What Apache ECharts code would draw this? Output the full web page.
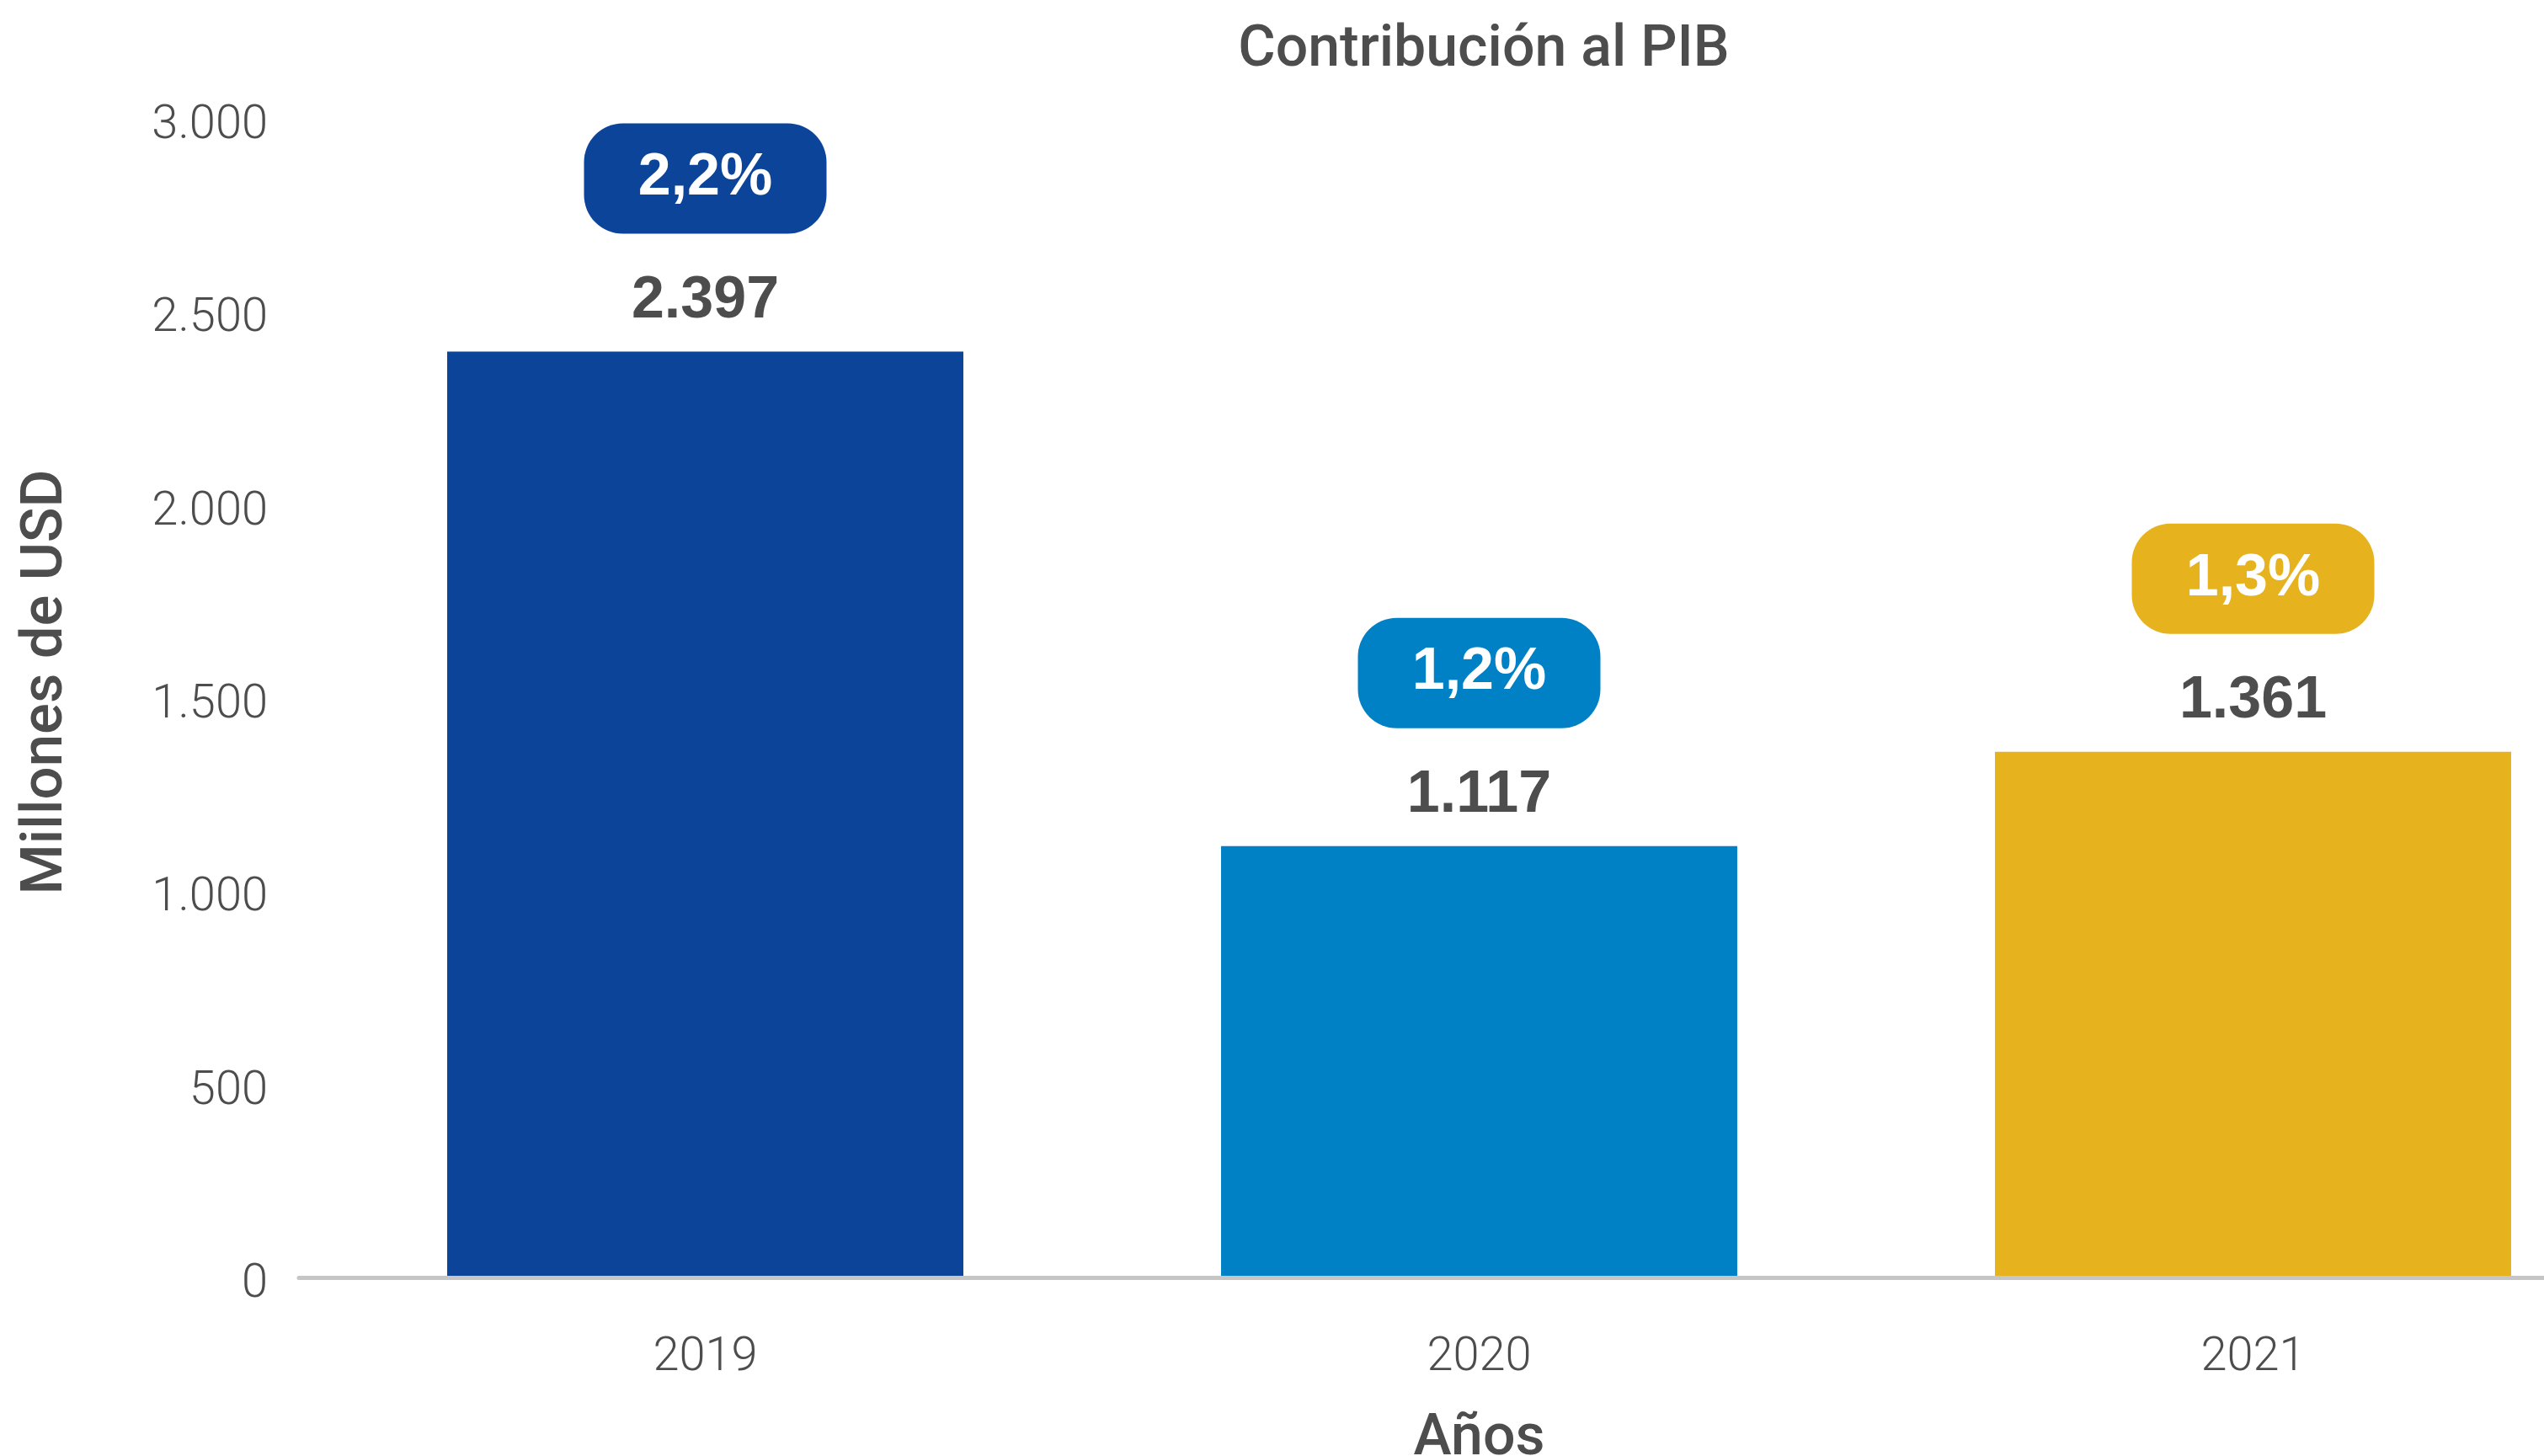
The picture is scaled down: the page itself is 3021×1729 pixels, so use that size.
<!DOCTYPE html>
<html>
<head>
<meta charset="utf-8">
<script src="https://cdn.jsdelivr.net/npm/echarts@6/dist/echarts.min.js"></script>
<style>
html,body{margin:0;padding:0;background:#fff;}
#chart{width:3021px;height:1729px;}
</style>
</head>
<body>
<div id="chart"></div>
<script>
const categories = ['2019', '2020', '2021'];
const values = [2397, 1117, 1361];
const shares = ['2,2%', '1,2%', '1,3%'];
const yMin = 0, yMax = 3000, yInterval = 500;
const barColors = ['#0B4499', '#0081C6', '#E6B21E'];

const textColor = '#4d4d4d';
const fmt = v => String(v).replace(/\B(?=(\d{3})+(?!\d))/g, '.');

const rich = {
  val: { fontFamily: 'Liberation Sans', fontWeight: 'bold', fontSize: 70, color: textColor, lineHeight: 160, align: 'center' }
};
barColors.forEach((c, i) => {
  rich['p' + i] = {
    fontFamily: 'Liberation Sans', fontWeight: 'bold', fontSize: 70, color: '#ffffff',
    backgroundColor: c, borderRadius: 46, width: 288, height: 131, lineHeight: 131,
    align: 'center', verticalAlign: 'middle'
  };
});

const chart = echarts.init(document.getElementById('chart'), null, { renderer: 'canvas' });
chart.setOption({
  backgroundColor: '#ffffff',
  animation: false,
  title: {
    text: 'Contribución al PIB',
    left: 1757, top: 22, textAlign: 'center',
    textStyle: { fontFamily: 'Roboto', fontWeight: 500, fontSize: 68, color: textColor }
  },
  grid: [
    { left: 378, top: 141, width: 2757, height: 1376, outerBoundsMode: 'none', containLabel: false },
    { left: 355, top: 141, width: 2780, height: 1376, outerBoundsMode: 'none', containLabel: false }
  ],
  xAxis: [{
    type: 'category',
    gridIndex: 0,
    data: categories,
    axisLine: { show: false },
    axisTick: { show: false },
    axisLabel: { margin: 68, fontFamily: 'Roboto', fontWeight: 300, fontSize: 56, color: textColor },
    name: 'Años',
    nameLocation: 'middle',
    nameGap: 159,
    nameTextStyle: { fontFamily: 'Roboto', fontWeight: 500, fontSize: 68, color: textColor }
  }, {
    type: 'category',
    gridIndex: 1,
    data: categories,
    z: 10,
    axisLine: { show: true, lineStyle: { color: '#c6c6c6', width: 5 } },
    axisTick: { show: false },
    axisLabel: { show: false }
  }],
  yAxis: [{
    type: 'value',
    gridIndex: 0,
    min: yMin, max: yMax, interval: yInterval,
    axisLine: { show: false },
    axisTick: { show: false },
    splitLine: { show: false },
    axisLabel: {
      margin: 60, fontFamily: 'Roboto', fontWeight: 300, fontSize: 56, color: textColor,
      verticalAlign: 'top', lineHeight: 18,
      formatter: v => fmt(v)
    },
    name: 'Millones de USD',
    nameLocation: 'middle',
    nameRotate: 90,
    nameGap: 288,
    nameTextStyle: { fontFamily: 'Roboto', fontWeight: 500, fontSize: 69, color: textColor, padding: [0, 0, 0, 38] }
  }, {
    type: 'value',
    gridIndex: 1,
    min: yMin, max: yMax, interval: yInterval,
    show: false
  }],
  series: [{
    type: 'bar',
    xAxisIndex: 0,
    yAxisIndex: 0,
    barCategoryGap: '33.3%',
    data: values.map((v, i) => ({ value: v, itemStyle: { color: barColors[i] } })),
    label: {
      show: true,
      position: 'top',
      distance: -20,
      formatter: p => '{p' + p.dataIndex + '|' + shares[p.dataIndex] + '}\n{val|' + fmt(p.value) + '}',
      rich: rich
    }
  }]
});
</script>
</body>
</html>
